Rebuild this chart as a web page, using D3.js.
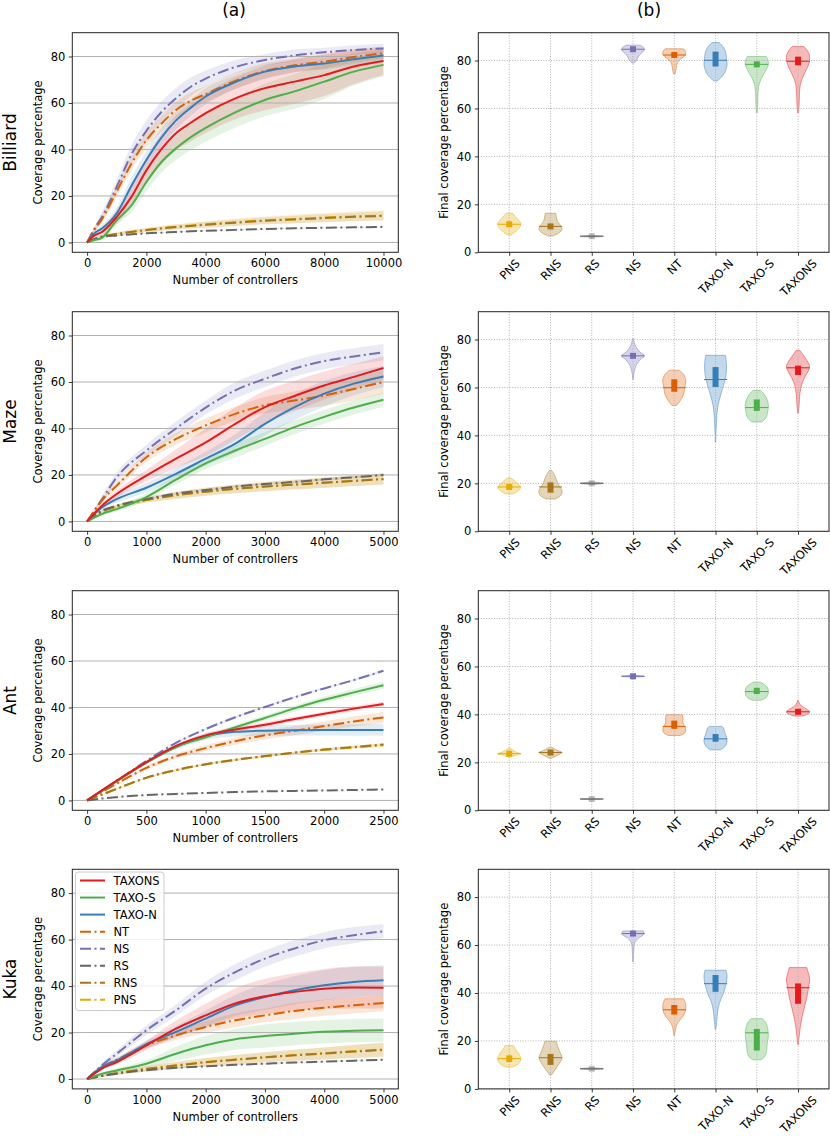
<!DOCTYPE html>
<html lang="en">
<head>
<meta charset="utf-8">
<title>Coverage</title>
<script src="https://d3js.org/d3.v7.min.js"></script>
<style>
  body { margin: 0; background: #fff; }
  svg { font-family: "DejaVu Sans", sans-serif; }
</style>
</head>
<body>
<div id="chart"></div>
<script>
// method order = violin order = drawing order
const methods = ["PNS", "RNS", "RS", "NS", "NT", "TAXO-N", "TAXO-S", "TAXONS"];
const colors = ["#e6ab02", "#a6761d", "#666666", "#7570b3", "#d95f02", "#377eb8", "#4daf4a", "#e41a1c"];
const dashDot = [true, true, true, true, true, false, false, false];
const legendOrder = ["TAXONS", "TAXO-S", "TAXO-N", "NT", "NS", "RS", "RNS", "PNS"];
const envNames = ["Billiard", "Maze", "Ant", "Kuka"];
const yTicks = [0, 20, 40, 60, 80];

// ---- Billiard ----
const billiardX = [0, 250, 500, 1000, 1500, 2000, 2500, 3000, 3500, 4000, 5000, 6000, 7000, 8000, 9000, 10000];
const billiardTicks = [0, 2000, 4000, 6000, 8000, 10000];
const billiardMean = [
  [0, 1.5, 2.6, 3.7, 4.6, 5.4, 6.1, 6.7, 7.3, 7.8, 8.7, 9.5, 10.1, 10.7, 11.2, 11.6],
  [0, 1.5, 2.5, 3.6, 4.5, 5.3, 6, 6.6, 7.1, 7.6, 8.5, 9.3, 9.9, 10.5, 11, 11.4],
  [0, 1.4, 2.3, 3, 3.5, 3.9, 4.2, 4.5, 4.8, 5, 5.4, 5.8, 6.1, 6.3, 6.5, 6.7],
  [0, 6, 11, 24, 38, 48, 56, 62, 67, 70.5, 75.5, 78.5, 80.5, 81.8, 82.8, 83.5],
  [0, 5.5, 10, 22, 34, 44, 51, 57, 61, 63.8, 69.5, 73.8, 76.2, 77.8, 79.8, 81.4],
  [0, 4, 6, 12.5, 24.5, 35.5, 45, 52.5, 58, 62.8, 69, 73.5, 75.7, 77, 78.8, 80.4],
  [0, 1, 2, 9.6, 16, 26, 34.5, 40.5, 45.3, 49.3, 56, 61.3, 65, 69.2, 73.5, 76.4],
  [0, 3, 4.5, 11, 19.7, 31, 40, 47, 51.5, 55.6, 62, 66.4, 69.2, 72, 75.7, 78.1]
];
const billiardSd = [
  [0, 0.3, 0.5, 0.7, 0.8, 0.9, 1, 1.1, 1.2, 1.3, 1.5, 1.7, 1.9, 2, 2.2, 2.3],
  [0, 0.3, 0.5, 0.7, 0.8, 0.9, 1, 1.1, 1.2, 1.3, 1.4, 1.5, 1.6, 1.7, 1.8, 1.9],
  [0, 0.1, 0.1, 0.15, 0.15, 0.2, 0.2, 0.2, 0.2, 0.2, 0.2, 0.2, 0.2, 0.2, 0.2, 0.2],
  [0, 1, 2, 3, 4, 4.5, 4.5, 4.5, 4, 3.5, 3, 2.5, 2.5, 2, 2, 2],
  [0, 1, 1.5, 2.5, 3, 3.5, 3.5, 3.5, 3.5, 3.5, 3.5, 3.5, 3, 3, 2.5, 2.5],
  [0, 1, 1.5, 2.5, 3.5, 4, 4, 4, 3.5, 3.5, 3, 3, 2.5, 2.5, 2.5, 2.5],
  [0, 0.5, 1, 2, 3, 4, 4.5, 5, 5.5, 6, 6.5, 7, 7.5, 7.5, 6, 5],
  [0, 1, 1.5, 3, 4.5, 5.5, 6.5, 7.5, 8, 8.5, 9, 9.5, 9.5, 9, 7.5, 6]
];
const billiardMedian = [11.7, 10.8, 6.7, 84.7, 82.3, 80.1, 78.4, 79.7];
const billiardQ1 = [11.2, 9.5, 6.6, 83.2, 81.6, 77.5, 77.6, 78];
const billiardQ3 = [12.4, 11.5, 6.8, 85, 83, 83.7, 79, 81.6];
const billiardShape = [
  [[7.2, 0.15], [8.5, 0.5], [10, 0.85], [12, 1], [13.5, 0.8], [15, 0.5], [16.3, 0.3]],
  [[6.8, 0.2], [8, 0.7], [9.5, 1], [11, 0.9], [13, 0.6], [15, 0.5], [16.3, 0.45]],
  [[6.3, 0.05], [6.7, 1], [7.1, 0.05]],
  [[78.9, 0.05], [80, 0.3], [81.5, 0.45], [83, 0.7], [84.5, 1], [85.5, 0.9], [86.4, 0.6]],
  [[74.4, 0.05], [76, 0.15], [78, 0.2], [80, 0.4], [81.5, 0.8], [83, 1], [84.5, 0.9], [84.9, 0.7]],
  [[71.5, 0.15], [73, 0.5], [75, 0.8], [78, 1], [81, 0.95], [84, 0.85], [86, 0.6], [87.5, 0.3]],
  [[58.3, 0.05], [62, 0.08], [66, 0.1], [70, 0.2], [73, 0.45], [76, 0.8], [78.5, 1], [80.5, 0.95], [81.7, 0.8]],
  [[58.3, 0.05], [62, 0.1], [66, 0.12], [70, 0.2], [73, 0.4], [76, 0.7], [79, 0.95], [82, 1], [84.5, 0.75], [85.8, 0.5]]
];

// ---- Maze ----
const mazeX = [0, 250, 500, 1000, 1500, 2000, 2500, 3000, 3500, 4000, 4500, 5000];
const mazeTicks = [0, 1000, 2000, 3000, 4000, 5000];
const mazeMean = [
  [0, 4.2, 6.3, 9.2, 11.2, 12.8, 14, 15, 15.9, 16.7, 17.5, 18.4],
  [0, 4.3, 6.5, 9.3, 11.3, 12.8, 14, 15, 15.8, 16.6, 17.4, 18.2],
  [0, 4.6, 6.8, 9.6, 12, 13.5, 15, 16.1, 17, 18.1, 19, 20],
  [0, 9.5, 19, 30.5, 40, 49, 56.4, 61.4, 65.8, 69, 71, 72.8],
  [0, 9, 15.4, 27.6, 35.5, 41.3, 46.3, 50, 52, 54.2, 57, 60],
  [0, 6, 9.6, 14.5, 20.5, 27, 33.5, 42, 49.2, 55, 59.3, 62.4],
  [0, 3.2, 5.3, 10.5, 18, 25, 30.5, 35.5, 40.6, 45, 49, 52.4],
  [0, 6.8, 11.8, 19.7, 27, 34, 42, 49.2, 54, 58.5, 62.2, 66]
];
const mazeSd = [
  [0, 0.5, 0.8, 1.2, 1.5, 1.7, 1.9, 2, 2.1, 2.2, 2.3, 2.4],
  [0, 0.5, 0.8, 1.2, 1.5, 1.7, 1.9, 2, 2.1, 2.2, 2.3, 2.4],
  [0, 0.2, 0.2, 0.3, 0.3, 0.4, 0.4, 0.4, 0.5, 0.5, 0.5, 0.5],
  [0, 1.5, 2, 2.5, 3, 3, 3.5, 3.5, 3.5, 3.5, 3.5, 3.5],
  [0, 1, 1.5, 2, 2.5, 3, 3, 3.5, 4, 4.5, 5, 5],
  [0, 1, 1.5, 2, 2.5, 3, 4, 5, 5.5, 5.5, 5, 4.5],
  [0, 0.5, 1, 1.5, 2, 2.5, 3, 3, 3, 3, 3, 3],
  [0, 1, 1.5, 2.5, 4, 6, 7, 7, 6.5, 6, 5.5, 5]
];
const mazeMedian = [18.5, 18.5, 20, 73.2, 59.9, 63.3, 51.6, 68.2];
const mazeQ1 = [17.5, 16.1, 19.9, 72.4, 58.2, 60.2, 50.2, 65.2];
const mazeQ3 = [19.3, 20.4, 20.1, 73.9, 63.4, 68.5, 55, 69.1];
const mazeShape = [
  [[15.6, 0.3], [17, 0.8], [18.5, 1], [20, 0.7], [21.5, 0.35], [22.3, 0.1]],
  [[13.5, 0.4], [15, 0.9], [17, 1], [19, 0.75], [21, 0.55], [23, 0.4], [25.4, 0.1]],
  [[19.5, 0.05], [20, 1], [20.6, 0.05]],
  [[63.3, 0.02], [66, 0.08], [69, 0.25], [71.5, 0.6], [73.2, 1], [75, 0.55], [77.5, 0.2], [80.4, 0.03]],
  [[52.5, 0.2], [54, 0.45], [57, 0.8], [60, 0.9], [63, 1], [65.5, 0.8], [67.2, 0.4]],
  [[37.2, 0.02], [42, 0.05], [47, 0.1], [52, 0.2], [57, 0.45], [61, 0.7], [65, 0.9], [69, 0.95], [72, 0.9], [73.4, 0.85]],
  [[45.6, 0.4], [47, 0.75], [50, 0.95], [53, 1], [56, 0.8], [58, 0.5], [58.8, 0.3]],
  [[49.3, 0.03], [53, 0.1], [57, 0.15], [61, 0.3], [64, 0.55], [67, 0.9], [69, 1], [71, 0.8], [73.5, 0.45], [75.5, 0.15]]
];

// ---- Ant ----
const antX = [0, 125, 250, 500, 750, 1000, 1250, 1500, 1750, 2000, 2250, 2500];
const antTicks = [0, 500, 1000, 1500, 2000, 2500];
const antMean = [
  [0, 2.5, 5, 9.7, 13, 15.5, 17.4, 19, 20.5, 21.8, 22.8, 23.7],
  [0, 2.5, 5, 9.8, 13.1, 15.6, 17.5, 19.1, 20.6, 21.9, 23, 24.1],
  [0, 0.8, 1.4, 2.3, 2.8, 3.2, 3.6, 3.9, 4.1, 4.3, 4.5, 4.7],
  [0, 4.2, 8.5, 17, 24.8, 30.7, 35.8, 40.2, 44.4, 48.2, 51.8, 55.8],
  [0, 3.6, 7.2, 14, 19, 22.5, 25.5, 28, 30, 32, 34, 35.7],
  [0, 4.2, 8.3, 16.3, 23, 27.5, 29.5, 30, 30.2, 30.3, 30.3, 30.3],
  [0, 4.2, 8.3, 16.3, 23, 27.2, 31.5, 35.5, 39.6, 43.3, 46.5, 49.6],
  [0, 4.3, 8.5, 16.5, 23.5, 28, 30.5, 32.6, 35, 37.3, 39.5, 41.5]
];
const antSd = [
  [0, 0.1, 0.2, 0.3, 0.4, 0.4, 0.5, 0.5, 0.5, 0.6, 0.6, 0.6],
  [0, 0.1, 0.2, 0.3, 0.4, 0.4, 0.5, 0.5, 0.5, 0.6, 0.6, 0.6],
  [0, 0.05, 0.1, 0.1, 0.1, 0.1, 0.1, 0.1, 0.1, 0.1, 0.1, 0.1],
  [0, 0.2, 0.3, 0.4, 0.5, 0.5, 0.5, 0.5, 0.5, 0.5, 0.5, 0.5],
  [0, 0.3, 0.5, 0.8, 1, 1.3, 1.5, 1.8, 2, 2, 2.2, 2.4],
  [0, 0.3, 0.5, 0.8, 1, 1.5, 2, 2.2, 2.3, 2.4, 2.5, 2.5],
  [0, 0.2, 0.3, 0.5, 0.7, 0.8, 1, 1.2, 1.3, 1.4, 1.5, 1.5],
  [0, 0.2, 0.3, 0.5, 0.7, 0.8, 0.9, 1, 1, 1, 1, 1]
];
const antMedian = [23.6, 24.1, 4.7, 55.9, 35, 29.8, 49.5, 41.1];
const antQ1 = [23.3, 23.7, 4.65, 55.8, 34, 28.6, 48.5, 40.7];
const antQ3 = [24, 24.5, 4.75, 56, 37.4, 31.8, 51.1, 42.2];
const antShape = [
  [[22.2, 0.1], [23, 0.55], [23.6, 1], [24.3, 0.6], [25.2, 0.3], [25.9, 0.05]],
  [[21.7, 0.1], [23, 0.6], [24.1, 1], [25, 0.6], [26.3, 0.1]],
  [[4.4, 0.05], [4.7, 1], [5.0, 0.05]],
  [[55.5, 0.05], [55.9, 1], [56.4, 0.05]],
  [[31.2, 0.5], [32, 0.85], [33.5, 1], [35, 0.9], [36.5, 0.75], [38.5, 0.75], [39.9, 0.7]],
  [[25.2, 0.4], [26.5, 0.8], [28.5, 1], [30.5, 0.95], [32.5, 0.8], [34.2, 0.7], [35, 0.55]],
  [[45.9, 0.35], [47, 0.8], [49, 1], [51, 0.95], [52.5, 0.65], [53.5, 0.25]],
  [[39.3, 0.3], [40.3, 0.9], [41.2, 1], [42.3, 0.7], [43.5, 0.3], [44.8, 0.1], [45.9, 0.03]]
];

// ---- Kuka ----
const kukaX = [0, 250, 500, 1000, 1500, 2000, 2500, 3000, 3500, 4000, 4500, 5000];
const kukaTicks = [0, 1000, 2000, 3000, 4000, 5000];
const kukaMean = [
  [0, 1.5, 2.6, 4.4, 5.9, 7.3, 8.4, 9.4, 10.3, 11.1, 12, 12.8],
  [0, 1.4, 2.5, 4.3, 5.8, 7.2, 8.3, 9.3, 10.2, 11, 11.8, 12.5],
  [0, 1.3, 2.3, 3.8, 4.8, 5.5, 6.1, 6.6, 7.1, 7.5, 7.9, 8.3],
  [0, 5.9, 10.9, 21, 29.6, 38.9, 46, 51.8, 56.2, 59.7, 61.9, 63.6],
  [0, 5.2, 8.3, 14.5, 18.8, 22.4, 25.3, 27.4, 29.3, 30.7, 31.7, 32.7],
  [0, 5.2, 8, 15, 20.3, 26, 31.7, 35.3, 38.2, 40.4, 41.8, 42.5],
  [0, 2.3, 3.7, 6.6, 10.9, 14.5, 17.1, 18.5, 19.5, 20.3, 20.8, 21],
  [0, 4.5, 7.3, 14.5, 21.7, 27.4, 32.5, 35.6, 37.5, 38.9, 39.4, 39.3]
];
const kukaSd = [
  [0, 0.5, 0.8, 1.2, 1.5, 1.8, 2, 2.2, 2.4, 2.6, 2.8, 3],
  [0, 0.5, 0.8, 1.2, 1.5, 1.8, 2, 2.2, 2.4, 2.6, 2.8, 3],
  [0, 0.1, 0.1, 0.2, 0.2, 0.2, 0.3, 0.3, 0.3, 0.3, 0.3, 0.3],
  [0, 1, 1.5, 2, 2.5, 3, 3.5, 3.5, 3.5, 3.5, 3.5, 3],
  [0, 0.5, 1, 1.5, 2, 2.5, 3, 3, 3.5, 3.5, 3.5, 3.5],
  [0, 0.5, 1, 1.5, 2.5, 3.5, 4.5, 5.5, 6, 6.5, 6.5, 6.5],
  [0, 0.5, 1, 1.5, 3, 4, 4.5, 5, 5, 5, 5, 5],
  [0, 0.5, 1, 2, 3.5, 5, 6.5, 7.5, 8, 8.5, 9, 9]
];
const kukaMedian = [12.6, 13, 8.4, 64.8, 33, 43.9, 23.4, 42.2];
const kukaQ1 = [11.2, 10, 8.3, 64, 31, 40.5, 16, 35.5];
const kukaQ3 = [14, 14.6, 8.5, 65.3, 35, 47.5, 25, 44];
const kukaShape = [
  [[9.1, 0.3], [10.5, 0.8], [12.5, 1], [14.5, 0.85], [16.5, 0.55], [18.1, 0.35]],
  [[5.9, 0.1], [8, 0.4], [10.5, 0.75], [13, 1], [15.5, 0.8], [18, 0.6], [19.9, 0.5]],
  [[8, 0.05], [8.4, 1], [8.8, 0.05]],
  [[53, 0.02], [56, 0.05], [59, 0.08], [61, 0.15], [63, 0.5], [64.5, 0.95], [65.9, 0.9]],
  [[22.3, 0.03], [24, 0.08], [26.5, 0.2], [28.5, 0.45], [31, 0.85], [33.5, 1], [36, 0.95], [37.6, 0.8]],
  [[24.8, 0.03], [28, 0.1], [32, 0.18], [36, 0.35], [40, 0.7], [43.5, 0.9], [46.5, 1], [48.8, 0.95], [49.5, 0.9]],
  [[12.1, 0.3], [13.5, 0.7], [16, 0.85], [19, 0.9], [22, 1], [25, 0.95], [27.5, 0.8], [29.3, 0.5]],
  [[18.4, 0.02], [22, 0.1], [26, 0.2], [30, 0.35], [34, 0.55], [38, 0.75], [42, 0.9], [46, 1], [49, 0.85], [50.6, 0.75]]
];

const envs = [
  { x: billiardX, ticks: billiardTicks, mean: billiardMean, sd: billiardSd, med: billiardMedian, q1: billiardQ1, q3: billiardQ3, shape: billiardShape },
  { x: mazeX, ticks: mazeTicks, mean: mazeMean, sd: mazeSd, med: mazeMedian, q1: mazeQ1, q3: mazeQ3, shape: mazeShape },
  { x: antX, ticks: antTicks, mean: antMean, sd: antSd, med: antMedian, q1: antQ1, q3: antQ3, shape: antShape },
  { x: kukaX, ticks: kukaTicks, mean: kukaMean, sd: kukaSd, med: kukaMedian, q1: kukaQ1, q3: kukaQ3, shape: kukaShape }
];

// layout
const leftRange = [72.3, 398.3], rightRange = [478.3, 829];
const rowTop = [32.7, 311.7, 590.7, 869.3], rowH = 219.6;
const fs = 11.5;
const dashArr = "11,3.5,2,3.5";

const svg = d3.select("#chart").append("svg")
  .attr("width", 830).attr("height", 1136);

svg.append("text").attr("x", 234).attr("y", 16).attr("text-anchor", "middle")
  .attr("font-size", 17).text("(a)");
svg.append("text").attr("x", 649).attr("y", 16).attr("text-anchor", "middle")
  .attr("font-size", 17).text("(b)");

function styleAxis(ax) {
  ax.attr("font-size", fs).attr("font-family", "DejaVu Sans, sans-serif");
  ax.select(".domain").remove();
  ax.selectAll(".tick line").attr("stroke", "#222").attr("stroke-width", 0.9);
  ax.selectAll(".tick text").attr("fill", "#000");
}

envs.forEach((e, r) => {
  const top = rowTop[r], bottom = top + rowH;

  // ---------- (a) coverage curves ----------
  const xMax = e.x[e.x.length - 1];
  const x = d3.scaleLinear().domain([-0.05 * xMax, 1.05 * xMax]).range(leftRange);
  const y = d3.scaleLinear().domain([-4.25, 90.25]).range([bottom, top]);
  const g = svg.append("g");

  methods.forEach((m, i) => {
    const pts = e.x.map((xv, k) => ({ x: xv, lo: e.mean[i][k] - e.sd[i][k], hi: e.mean[i][k] + e.sd[i][k] }));
    g.append("path").datum(pts)
      .attr("d", d3.area().curve(d3.curveMonotoneX).x(d => x(d.x)).y0(d => y(d.lo)).y1(d => y(d.hi)))
      .attr("fill", colors[i]).attr("fill-opacity", 0.15);
  });

  g.selectAll(null).data(yTicks).join("line")
    .attr("x1", leftRange[0]).attr("x2", leftRange[1])
    .attr("y1", d => y(d)).attr("y2", d => y(d))
    .attr("stroke", "#b0b0b0").attr("stroke-width", 1);

  methods.forEach((m, i) => {
    const pts = e.x.map((xv, k) => [xv, e.mean[i][k]]);
    g.append("path").datum(pts)
      .attr("d", d3.line().curve(d3.curveMonotoneX).x(d => x(d[0])).y(d => y(d[1])))
      .attr("fill", "none").attr("stroke", colors[i]).attr("stroke-width", 2)
      .attr("stroke-dasharray", dashDot[i] ? dashArr : null);
  });

  g.append("rect").attr("x", leftRange[0]).attr("y", top)
    .attr("width", leftRange[1] - leftRange[0]).attr("height", rowH)
    .attr("fill", "none").attr("stroke", "#222").attr("stroke-width", 1);

  const xa = g.append("g").attr("transform", `translate(0,${bottom})`)
    .call(d3.axisBottom(x).tickValues(e.ticks).tickFormat(d3.format("d")).tickSize(3.5).tickPadding(3.5).tickSizeOuter(0));
  styleAxis(xa);
  const ya = g.append("g").attr("transform", `translate(${leftRange[0]},0)`)
    .call(d3.axisLeft(y).tickValues(yTicks).tickSize(3.5).tickPadding(3.5).tickSizeOuter(0));
  styleAxis(ya);

  g.append("text").attr("x", (leftRange[0] + leftRange[1]) / 2).attr("y", bottom + 32)
    .attr("text-anchor", "middle").attr("font-size", fs).text("Number of controllers");
  g.append("text").attr("transform", `translate(42,${(top + bottom) / 2}) rotate(-90)`)
    .attr("text-anchor", "middle").attr("font-size", fs).text("Coverage percentage");
  g.append("text").attr("transform", `translate(16,${(top + bottom) / 2}) rotate(-90)`)
    .attr("text-anchor", "middle").attr("font-size", 17).text(envNames[r]);

  // legend in last row
  if (r === 3) {
    const lg = g.append("g");
    lg.append("rect").attr("x", 75.5).attr("y", 872).attr("width", 88.5).attr("height", 138.5)
      .attr("rx", 3).attr("fill", "#fff").attr("fill-opacity", 0.8)
      .attr("stroke", "#cccccc").attr("stroke-width", 1);
    legendOrder.forEach((name, k) => {
      const i = methods.indexOf(name);
      const ly = 880.5 + k * 17.05;
      lg.append("line").attr("x1", 80).attr("x2", 105).attr("y1", ly).attr("y2", ly)
        .attr("stroke", colors[i]).attr("stroke-width", 2)
        .attr("stroke-dasharray", dashDot[i] ? dashArr : null);
      lg.append("text").attr("x", 113.5).attr("y", ly).attr("dy", "0.36em")
        .attr("font-size", fs).text(name);
    });
  }

  // ---------- (b) final coverage violins ----------
  const xv = d3.scaleLinear().domain([0.25, 8.75]).range(rightRange);
  const yv = d3.scaleLinear().domain([0, 91.6]).range([bottom, top]);
  const h = svg.append("g");
  const half = 0.28;

  methods.forEach((m, i) => {
    h.append("path").datum(e.shape[i])
      .attr("d", d3.area().curve(d3.curveCatmullRom.alpha(0.5))
        .y(d => yv(d[0])).x0(d => xv(i + 1 - d[1] * half)).x1(d => xv(i + 1 + d[1] * half)))
      .attr("fill", colors[i]).attr("fill-opacity", 0.3)
      .attr("stroke", colors[i]).attr("stroke-opacity", 0.45).attr("stroke-width", 1);
  });

  h.selectAll(null).data(yTicks).join("line")
    .attr("x1", rightRange[0]).attr("x2", rightRange[1])
    .attr("y1", d => yv(d)).attr("y2", d => yv(d))
    .attr("stroke", "#b0b0b0").attr("stroke-width", 1).attr("stroke-dasharray", "1,1.6");
  h.selectAll(null).data(d3.range(1, 9)).join("line")
    .attr("x1", d => xv(d)).attr("x2", d => xv(d))
    .attr("y1", top).attr("y2", bottom)
    .attr("stroke", "#b0b0b0").attr("stroke-width", 1).attr("stroke-dasharray", "1,1.6");

  methods.forEach((m, i) => {
    const cx = xv(i + 1);
    h.append("line").attr("x1", xv(i + 1 - half)).attr("x2", xv(i + 1 + half))
      .attr("y1", yv(e.med[i])).attr("y2", yv(e.med[i]))
      .attr("stroke", colors[i]).attr("stroke-width", 1);
    let yt = yv(e.q3[i]), yb = yv(e.q1[i]);
    if (yb - yt < 6) { const c = yv(e.med[i]); yt = c - 3; yb = c + 3; }
    if (m !== "RS" || yb - yt > 3) {
      h.append("rect").attr("x", cx - 3).attr("width", 6).attr("y", yt).attr("height", yb - yt)
        .attr("fill", colors[i]).attr("fill-opacity", m === "RS" ? 0.4 : 1);
    }
  });

  h.append("rect").attr("x", rightRange[0]).attr("y", top)
    .attr("width", rightRange[1] - rightRange[0]).attr("height", rowH)
    .attr("fill", "none").attr("stroke", "#222").attr("stroke-width", 1);

  const ya2 = h.append("g").attr("transform", `translate(${rightRange[0]},0)`)
    .call(d3.axisLeft(yv).tickValues(yTicks).tickSize(3.5).tickPadding(3.5).tickSizeOuter(0));
  styleAxis(ya2);
  const xa2 = h.append("g").attr("transform", `translate(0,${bottom})`)
    .call(d3.axisBottom(xv).tickValues(d3.range(1, 9)).tickFormat(d => methods[d - 1]).tickSize(3.5).tickSizeOuter(0));
  styleAxis(xa2);
  xa2.selectAll(".tick text").each(function () {
    const L = this.getComputedTextLength();
    const off = 5 + (L + fs) / (2 * Math.SQRT2);
    d3.select(this).attr("y", null).attr("dy", null)
      .attr("text-anchor", "middle").attr("dominant-baseline", "central")
      .attr("transform", `translate(0,${off}) rotate(-45)`);
  });

  h.append("text").attr("transform", `translate(448,${(top + bottom) / 2}) rotate(-90)`)
    .attr("text-anchor", "middle").attr("font-size", fs).text("Final coverage percentage");
});
</script>
</body>
</html>
